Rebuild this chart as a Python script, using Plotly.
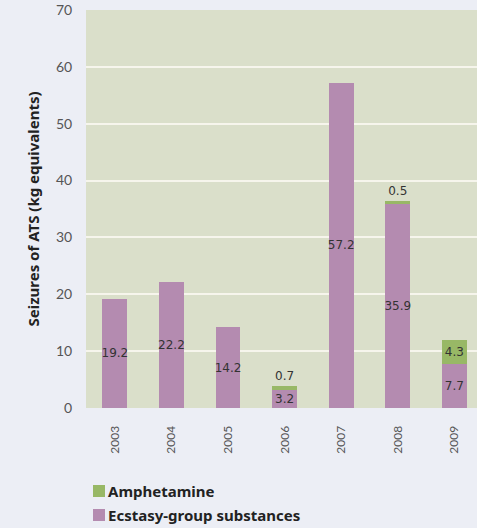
import plotly.graph_objects as go

# Seizures of amphetamine-type stimulants, kg equivalents
years = ["2003", "2004", "2005", "2006", "2007", "2008", "2009"]
ecstasy = [19.2, 22.2, 14.2, 3.2, 57.2, 35.9, 7.7]
amphetamine = [0, 0, 0, 0.7, 0, 0.5, 4.3]
amph_label_pos = ["none", "none", "none", "outside", "none", "outside", "inside"]

y_ticks = [0, 10, 20, 30, 40, 50, 60, 70]

PURPLE = "#b48bb0"
GREEN = "#98b866"
PLOT_BG = "#dadfca"
PAPER_BG = "#eceef5"
TEXT = "#333333"

x = list(range(len(years)))

fig = go.Figure()
fig.add_trace(go.Bar(
    x=x, y=ecstasy, name="Ecstasy-group substances",
    marker=dict(color=PURPLE, line=dict(width=0)),
    width=0.44,
    text=[f"{v:.1f}" for v in ecstasy],
    textposition="inside", insidetextanchor="middle",
    textangle=0, constraintext="none",
    textfont=dict(family="DejaVu Sans", size=12, color=TEXT),
    cliponaxis=False,
    showlegend=False,
))
fig.add_trace(go.Bar(
    x=x, y=amphetamine, name="Amphetamine",
    marker=dict(color=GREEN, line=dict(width=0)),
    width=0.44,
    text=[f"{v:.1f}" for v in amphetamine],
    textposition=amph_label_pos, insidetextanchor="middle",
    textangle=0, constraintext="none",
    textfont=dict(family="DejaVu Sans", size=12, color=TEXT),
    cliponaxis=False,
    showlegend=False,
))

# Legend drawn as swatches with labels
legend_items = [("Amphetamine", GREEN, 491), ("Ecstasy-group substances", PURPLE, 515)]
for label, color, yc in legend_items:
    fig.add_shape(type="rect", xref="paper", yref="paper",
                  x0=(93 - 86) / 391, x1=(105 - 86) / 391,
                  y0=(408 - (yc + 6)) / 398, y1=(408 - (yc - 6)) / 398,
                  fillcolor=color, line=dict(width=0))
    fig.add_annotation(text=label, xref="paper", yref="paper",
                       x=(106 - 86) / 391, y=(408 - yc) / 398,
                       xanchor="left", yanchor="middle", showarrow=False,
                       font=dict(family="Noto Sans", size=15, color="#222222",
                                 weight="bold"))

fig.update_layout(
    barmode="stack",
    width=477, height=528,
    margin=dict(l=86, r=0, t=10, b=120),
    paper_bgcolor=PAPER_BG,
    plot_bgcolor=PLOT_BG,
    uniformtext=dict(minsize=8, mode="show"),
    xaxis=dict(
        tickmode="array", tickvals=x, ticktext=years,
        range=[-0.51, 6.4], tickangle=-90,
        ticks="outside", ticklen=12, tickcolor=PAPER_BG,
        tickfont=dict(family="Lato", size=12, color="#555555"),
        showgrid=False, zeroline=False, showline=False,
    ),
    yaxis=dict(
        range=[0, 70], tickvals=y_ticks,
        ticks="outside", ticklen=10, tickcolor=PAPER_BG,
        tickfont=dict(family="Lato", size=14, color="#555555"),
        showgrid=True, gridcolor="#f6f5ec", gridwidth=1.5,
        zeroline=False, showline=False,
        title=dict(text="Seizures of ATS (kg equivalents)",
                   font=dict(family="Noto Sans", size=15, color="#222222",
                             weight="bold"),
                   standoff=12),
    ),
)

fig.write_html("out.html")
